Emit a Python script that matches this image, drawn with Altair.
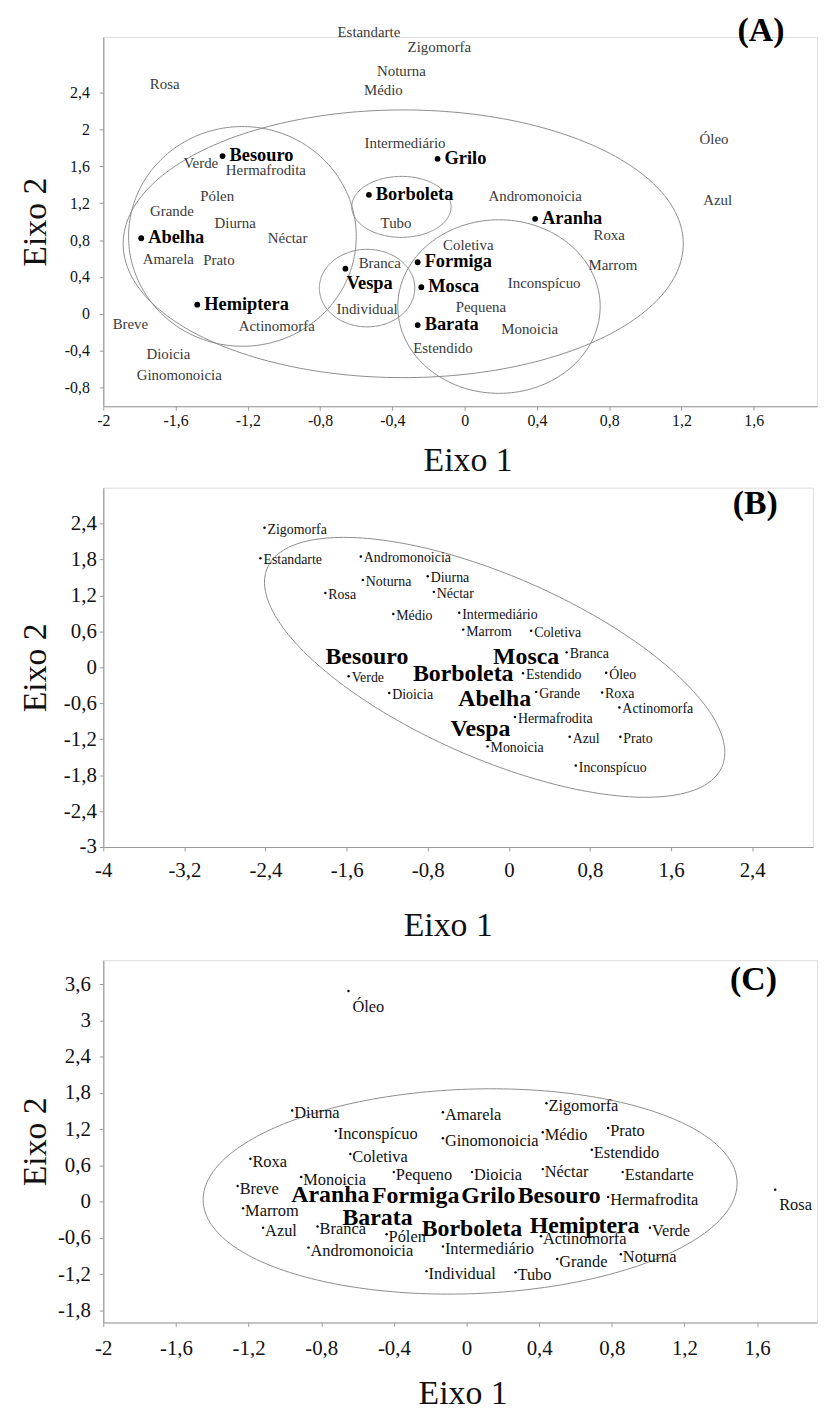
import numpy as np
import pandas as pd
import altair as alt

FONT = "Liberation Serif"

# ---------------- Panel A data ----------------
a_cat_names = ["Estandarte", "Zigomorfa", "Noturna", "Médio", "Rosa", "Intermediário", "Verde",
               "Hermafrodita", "Pólen", "Óleo", "Andromonoicia", "Azul", "Tubo", "Grande", "Diurna",
               "Néctar", "Amarela", "Prato", "Branca", "Individual", "Breve", "Actinomorfa", "Dioicia",
               "Ginomonoicia", "Estendido", "Roxa", "Coletiva", "Marrom", "Inconspícuo", "Pequena", "Monoicia"]
a_cat_x = [-0.53, -0.14, -0.35, -0.45, -1.66, -0.33, -1.46, -1.10, -1.37, 1.38, 0.39, 1.40, -0.38, -1.62,
           -1.27, -0.98, -1.64, -1.36, -0.47, -0.54, -1.85, -1.04, -1.64, -1.58, -0.12, 0.80, 0.02, 0.82,
           0.44, 0.09, 0.36]
a_cat_y = [3.05, 2.89, 2.63, 2.43, 2.49, 1.85, 1.63, 1.56, 1.28, 1.89, 1.28, 1.23, 0.99, 1.12, 0.99, 0.82,
           0.59, 0.58, 0.55, 0.05, -0.11, -0.13, -0.43, -0.66, -0.37, 0.85, 0.75, 0.53, 0.33, 0.08, -0.16]

a_ins_names = ["Besouro", "Grilo", "Borboleta", "Aranha", "Abelha", "Formiga", "Vespa", "Mosca",
               "Hemiptera", "Barata"]
a_ins_x = [-1.34, -0.15, -0.53, 0.39, -1.79, -0.26, -0.66, -0.24, -1.48, -0.26]
a_ins_y = [1.71, 1.68, 1.29, 1.03, 0.82, 0.56, 0.49, 0.29, 0.10, -0.12]

a_ell_cx = [-0.34, -1.23, -0.35, -0.54, 0.19]
a_ell_cy = [0.76, 0.84, 1.16, 0.28, 0.08]
a_ell_w = [1.55, 0.63, 0.275, 0.264, 0.56]
a_ell_h = [1.45, 1.19, 0.33, 0.42, 0.94]
a_ell_r = [0.0, 0.0, 0.0, 0.0, 0.0]

a_xticks = [-2, -1.6, -1.2, -0.8, -0.4, 0, 0.4, 0.8, 1.2, 1.6]
a_yticks = [-0.8, -0.4, 0, 0.4, 0.8, 1.2, 1.6, 2, 2.4]

# ---------------- Panel B data ----------------
b_cat_names = ["Zigomorfa", "Estandarte", "Andromonoicia", "Noturna", "Rosa", "Diurna", "Néctar", "Médio",
               "Intermediário", "Marrom", "Coletiva", "Branca", "Estendido", "Óleo", "Grande", "Roxa",
               "Actinomorfa", "Hermafrodita", "Azul", "Prato", "Monoicia", "Inconspícuo", "Verde", "Dioicia"]
b_cat_x = [-2.41, -2.45, -1.46, -1.44, -1.81, -0.80, -0.74, -1.14, -0.49, -0.45, 0.22, 0.57, 0.14, 0.96,
           0.27, 0.92, 1.09, 0.06, 0.60, 1.10, -0.21, 0.66, -1.58, -1.18]
b_cat_y = [2.33, 1.82, 1.85, 1.46, 1.24, 1.52, 1.26, 0.89, 0.91, 0.63, 0.61, 0.25, -0.10, -0.09, -0.41,
           -0.42, -0.67, -0.83, -1.16, -1.16, -1.32, -1.64, -0.15, -0.43]

b_ins_names = ["Besouro", "Borboleta", "Mosca", "Abelha", "Vespa"]
b_ins_x = [-1.40, -0.45, 0.17, -0.14, -0.28]
b_ins_y = [0.18, -0.12, 0.18, -0.53, -1.03]

b_ell_cx = [-0.14]
b_ell_cy = [0.0]
b_ell_w = [2.27]
b_ell_h = [2.17]
b_ell_r = [-0.655]

b_xticks = [-4, -3.2, -2.4, -1.6, -0.8, 0, 0.8, 1.6, 2.4]
b_yticks = [-3, -2.4, -1.8, -1.2, -0.6, 0, 0.6, 1.2, 1.8, 2.4]

# ---------------- Panel C data ----------------
c_cat_names = ["Óleo", "Diurna", "Amarela", "Zigomorfa", "Inconspícuo", "Ginomonoicia", "Médio", "Prato",
               "Estendido", "Coletiva", "Roxa", "Monoicia", "Pequeno", "Dioicia", "Néctar", "Estandarte",
               "Breve", "Hermafrodita", "Rosa", "Marrom", "Azul", "Branca", "Pólen", "Actinomorfa", "Verde",
               "Andromonoicia", "Intermediário", "Grande", "Noturna", "Individual", "Tubo"]
c_cat_x = [-0.65, -0.96, -0.13, 0.44, -0.72, -0.13, 0.42, 0.78, 0.69, -0.64, -1.19, -0.91, -0.40, 0.03,
           0.42, 0.86, -1.26, 0.78, 1.70, -1.23, -1.12, -0.82, -0.44, 0.41, 1.01, -0.87, -0.13, 0.50,
           0.85, -0.22, 0.27]
c_cat_y = [3.49, 1.51, 1.48, 1.63, 1.17, 1.05, 1.15, 1.22, 0.86, 0.79, 0.71, 0.41, 0.49, 0.49, 0.54, 0.49,
           0.26, 0.08, 0.20, -0.11, -0.43, -0.41, -0.54, -0.57, -0.43, -0.76, -0.74, -0.95, -0.87, -1.15,
           -1.17]
c_below_names = ["Óleo", "Rosa"]

c_ins_names = ["Aranha", "Formiga", "Grilo", "Besouro", "Barata", "Borboleta", "Hemiptera"]
c_ins_x = [-0.75, -0.28, 0.12, 0.51, -0.49, 0.03, 0.65]
c_ins_y = [0.11, 0.10, 0.10, 0.10, -0.27, -0.46, -0.41]

c_ell_cx = [0.02]
c_ell_cy = [0.17]
c_ell_w = [1.47]
c_ell_h = [1.70]
c_ell_r = [0.08]

c_xticks = [-2, -1.6, -1.2, -0.8, -0.4, 0, 0.4, 0.8, 1.2, 1.6]
c_yticks = [-1.8, -1.2, -0.6, 0, 0.6, 1.2, 1.8, 2.4, 3, 3.6]

letters = ["(A)", "(B)", "(C)"]
letter_x = [1.64, 2.43, 1.58]
letter_y = [3.06, 2.73, 3.67]

LBL = "(datum.value < 0 ? '-' : '') + replace(format(abs(datum.value), '~g'), '.', ',')"


def ellipse_frame(cxs, cys, ws, hs, rs, n=240):
    t = np.linspace(0, 2 * np.pi, n)
    parts = []
    for i, (cx, cy, w, h, r) in enumerate(zip(cxs, cys, ws, hs, rs)):
        xs = cx + w * np.cos(t)
        ys = cy + h * (r * np.cos(t) + np.sqrt(1 - r * r) * np.sin(t))
        parts.append(pd.DataFrame({"x": xs, "y": ys, "eid": i, "k": np.arange(n)}))
    return pd.concat(parts, ignore_index=True)


def axis(title, values, lsize, tsize, lpad, tx=None, ty=None):
    kw = dict(title=title, values=values, labelExpr=LBL, grid=False, domainColor="#9a9a9a",
              domainWidth=1.2, tickColor="#9a9a9a", tickSize=tsize, labelFont=FONT, labelFontSize=lsize,
              labelColor="#111111", labelPadding=lpad, labelFlush=False, labelOverlap=False,
              titleFont=FONT, titleFontSize=34, titleFontWeight="normal", titleColor="#111111",
              titleBaseline="middle", titleAlign="center")
    if tx is not None:
        kw["titleX"] = tx
    if ty is not None:
        kw["titleY"] = ty
    return alt.Axis(**kw)


def panel(idx, w, h, xdom, ydom, xax, yax, ell, cat_layers, ins_layers):
    X = alt.X("x:Q", scale=alt.Scale(domain=xdom, nice=False, zero=False), axis=xax)
    Y = alt.Y("y:Q", scale=alt.Scale(domain=ydom, nice=False, zero=False), axis=yax)
    ell_layer = alt.Chart(ell).mark_line(color="#8c8c8c", strokeWidth=1).encode(
        x=X, y=Y, detail="eid:N", order="k:Q")
    let_df = pd.DataFrame({"x": [letter_x[idx]], "y": [letter_y[idx]], "t": [letters[idx]]})
    let_layer = alt.Chart(let_df).mark_text(font=FONT, fontSize=34, fontWeight="bold", align="center",
                                            baseline="middle", color="#000000").encode(x=X, y=Y, text="t:N")
    layers = [ell_layer] + [l(X, Y) for l in cat_layers] + [l(X, Y) for l in ins_layers] + [let_layer]
    return alt.layer(*layers).properties(width=w, height=h)


# ---- Panel A ----
a_cat = pd.DataFrame({"x": a_cat_x, "y": a_cat_y, "t": a_cat_names})
a_ins = pd.DataFrame({"x": a_ins_x, "y": a_ins_y, "t": a_ins_names})


def a_cat_layer(X, Y):
    return alt.Chart(a_cat).mark_text(font=FONT, fontSize=15, color="#3a3a3a", align="center",
                                      baseline="middle").encode(x=X, y=Y, text="t:N")


def a_dot_layer(X, Y):
    return alt.Chart(a_ins).mark_circle(size=34, color="#000000", opacity=1).encode(x=X, y=Y)


def a_lab_layer(X, Y):
    return alt.Chart(a_ins).transform_filter("datum.t != 'Vespa'").mark_text(
        font=FONT, fontSize=18.5, fontWeight="bold", color="#000000", align="left", baseline="middle",
        dx=7, dy=-1).encode(x=X, y=Y, text="t:N")


def a_lab_vespa(X, Y):
    return alt.Chart(a_ins).transform_filter("datum.t == 'Vespa'").mark_text(
        font=FONT, fontSize=18.5, fontWeight="bold", color="#000000", align="left", baseline="middle",
        dx=1, dy=14).encode(x=X, y=Y, text="t:N")


pA = panel(0, 719, 372, [-2, 1.95], [-1, 3],
           axis("Eixo 1", a_xticks, 16, 4, 2, tx=367, ty=55),
           axis("Eixo 2", a_yticks, 16, 4, 10, tx=-68),
           ellipse_frame(a_ell_cx, a_ell_cy, a_ell_w, a_ell_h, a_ell_r),
           [a_cat_layer], [a_dot_layer, a_lab_layer, a_lab_vespa])

# ---- Panel B ----
b_cat = pd.DataFrame({"x": b_cat_x, "y": b_cat_y, "t": b_cat_names})
b_ins = pd.DataFrame({"x": b_ins_x, "y": b_ins_y, "t": b_ins_names})


def b_dot_layer(X, Y):
    return alt.Chart(b_cat).mark_circle(size=6, color="#000000", opacity=1).encode(x=X, y=Y)


def b_cat_layer(X, Y):
    return alt.Chart(b_cat).mark_text(font=FONT, fontSize=14, color="#111111", align="left",
                                      baseline="middle", dx=3, dy=2).encode(x=X, y=Y, text="t:N")


def b_ins_layer(X, Y):
    return alt.Chart(b_ins).mark_text(font=FONT, fontSize=24, fontWeight="bold", color="#000000",
                                      align="center", baseline="middle").encode(x=X, y=Y, text="t:N")


pB = panel(1, 715, 362, [-4, 3], [-3, 3],
           axis("Eixo 1", b_xticks, 21, 4, 9, tx=347, ty=79),
           axis("Eixo 2", b_yticks, 21, 4, 3, tx=-68),
           ellipse_frame(b_ell_cx, b_ell_cy, b_ell_w, b_ell_h, b_ell_r),
           [b_dot_layer, b_cat_layer], [b_ins_layer])

# ---- Panel C ----
c_cat = pd.DataFrame({"x": c_cat_x, "y": c_cat_y, "t": c_cat_names})
c_ins = pd.DataFrame({"x": c_ins_x, "y": c_ins_y, "t": c_ins_names})
below_test = "indexof(" + str(c_below_names).replace('"', "'") + ", datum.t) >= 0"


def c_dot_layer(X, Y):
    return alt.Chart(c_cat).mark_circle(size=6, color="#000000", opacity=1).encode(x=X, y=Y)


def c_cat_layer(X, Y):
    return alt.Chart(c_cat).transform_filter("!(" + below_test + ")").mark_text(
        font=FONT, fontSize=16.5, color="#111111", align="left", baseline="middle", dx=2, dy=3
    ).encode(x=X, y=Y, text="t:N")


def c_cat_below(X, Y):
    return alt.Chart(c_cat).transform_filter(below_test).mark_text(
        font=FONT, fontSize=16.5, color="#111111", align="left", baseline="middle", dx=4, dy=16
    ).encode(x=X, y=Y, text="t:N")


def c_ins_layer(X, Y):
    return alt.Chart(c_ins).mark_text(font=FONT, fontSize=24, fontWeight="bold", color="#000000",
                                      align="center", baseline="middle").encode(x=X, y=Y, text="t:N")


pC = panel(2, 719, 365, [-2, 1.93], [-2, 4],
           axis("Eixo 1", c_xticks, 21, 4, 11, tx=362, ty=72),
           axis("Eixo 2", c_yticks, 21, 4, 9, tx=-68),
           ellipse_frame(c_ell_cx, c_ell_cy, c_ell_w, c_ell_h, c_ell_r),
           [c_dot_layer, c_cat_layer, c_cat_below], [c_ins_layer])


def spacer(hh):
    return alt.Chart(pd.DataFrame({"s": [0]})).mark_text(text=" ", opacity=0).encode(
        x=alt.value(0), y=alt.value(0)).properties(
        width=1, height=hh, view=alt.ViewBackground(stroke="transparent", strokeWidth=0))


chart = alt.vconcat(pA, spacer(82), pB, spacer(114), pC, spacing=0, bounds="flush").properties(
    padding={"left": 10, "top": 0, "right": 0, "bottom": 0}
).configure_view(stroke=None).configure(font=FONT)

chart.save("out.html", embed_options={"renderer": "svg", "actions": False})
